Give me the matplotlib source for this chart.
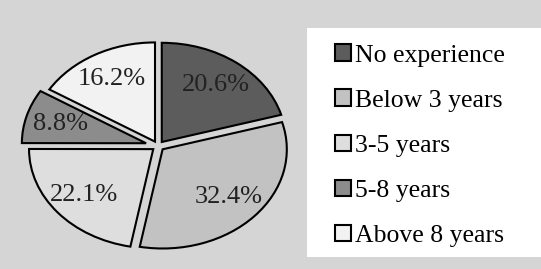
import matplotlib.pyplot as plt
from matplotlib.patches import Rectangle

categories = ["No experience", "Below 3 years", "3-5 years", "5-8 years", "Above 8 years"]
shares = [20.6, 32.4, 22.1, 8.8, 16.2]
colors = ["#5c5c5c", "#c2c2c2", "#dedede", "#8c8c8c", "#f2f2f2"]
explode = [0.05, 0.05, 0.05, 0.1, 0.05]

plt.rcParams['font.family'] = ['Liberation Serif', 'DejaVu Serif']

fig = plt.figure(figsize=(5.41, 2.69), dpi=100, facecolor="#d5d5d5")
ax = fig.add_axes([0.0166, 0.0149, 0.551, 0.885])
ax.set_facecolor("#d5d5d5")

wedges, texts, autotexts = ax.pie(
    shares, colors=colors, explode=explode, startangle=90, counterclock=False,
    autopct="%.1f%%", pctdistance=0.72,
    wedgeprops=dict(edgecolor="black", linewidth=1.5),
    textprops=dict(fontsize=19, color="#222222"))
ax.set_aspect('auto')
ax.set_xlim(-1.2, 1.2)
ax.set_ylim(-1.2, 1.2)
ax.axis('off')

# white legend panel
fig.patches.append(Rectangle((0.5675, 0.0446), 0.4325, 0.851, transform=fig.transFigure,
                             facecolor="white", edgecolor="none", zorder=0))

leg = fig.legend(wedges, categories, loc="upper left", bbox_to_anchor=(0.62, 0.835),
                 frameon=False, fontsize=18.5, handlelength=0.6, handleheight=0.6,
                 handletextpad=0.15, labelspacing=0.89, borderaxespad=0, borderpad=0)

fig.savefig("out.png", dpi=100, facecolor=fig.get_facecolor())
